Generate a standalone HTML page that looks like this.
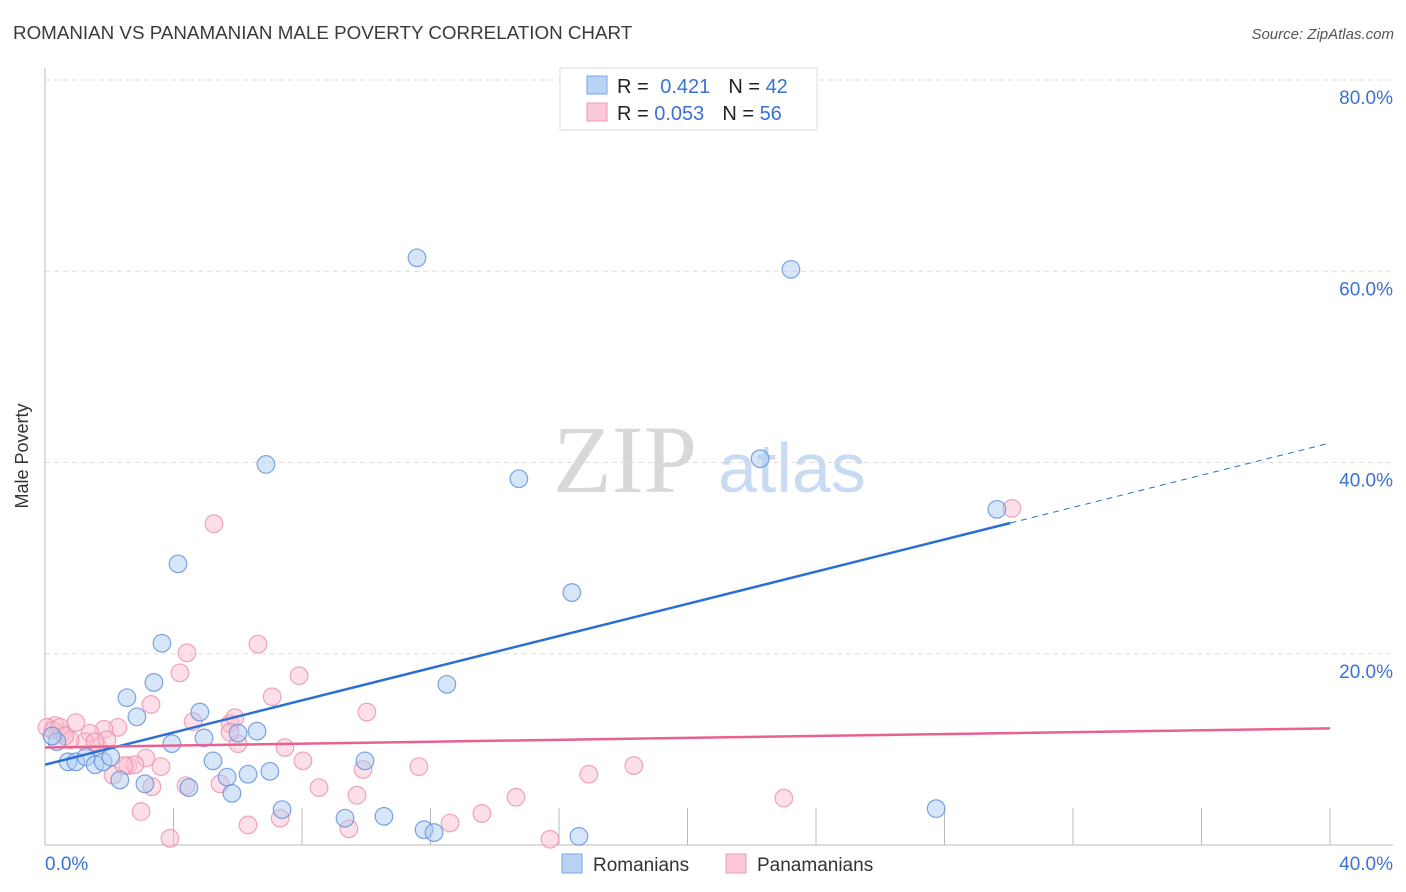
<!DOCTYPE html>
<html><head><meta charset="utf-8"><style>
body{margin:0;background:#fff;font-family:"Liberation Sans",sans-serif;}
svg{display:block}
</style></head><body>
<svg id="chart" width="1406" height="892" xmlns="http://www.w3.org/2000/svg">
<text x="13" y="39" font-size="18.8" fill="#3a3a3a">ROMANIAN VS PANAMANIAN MALE POVERTY CORRELATION CHART</text>
<text x="1394" y="39" font-size="15" fill="#555" font-style="italic" text-anchor="end">Source: ZipAtlas.com</text>
<g>
<text x="553" y="492" font-size="96" font-family="Liberation Serif,serif" fill="#d8d8d8">ZIP</text>
<text x="718" y="492" font-size="70" fill="#c9dbf3">atlas</text>
</g>
<g id="grid"></g>
<g id="axes"></g>
<g id="marks"></g>
<text x="28" y="456" font-size="18" fill="#333" text-anchor="middle" transform="rotate(-90 28 456)">Male Poverty</text>
<g>
<rect x="560" y="68" width="257" height="62" fill="#fff" stroke="#ddd"/>
<rect x="587" y="76" width="20" height="18" fill="#b9d3f5" stroke="#7aa6e6"/>
<rect x="587" y="103" width="20" height="18" fill="#fbcad8" stroke="#f09ab3"/>
<text x="617" y="93" font-size="20" fill="#222">R = <tspan fill="#3a72d4" dx="6">0.421</tspan><tspan dx="18">N = </tspan><tspan fill="#3a72d4">42</tspan></text>
<text x="617" y="120" font-size="20" fill="#222">R = <tspan fill="#3a72d4">0.053</tspan><tspan dx="18">N = </tspan><tspan fill="#3a72d4">56</tspan></text>
</g>
<g>
<rect x="562" y="854" width="20" height="19" fill="#b9d3f5" stroke="#7aa6e6"/>
<text x="593" y="871" font-size="19" fill="#333">Romanians</text>
<rect x="726" y="854" width="20" height="19" fill="#fbcad8" stroke="#f09ab3"/>
<text x="757" y="871" font-size="19" fill="#333">Panamanians</text>
</g>
</svg>
<script>
const yTicks=[20,40,60,80];
const yTickLabels=["20.0%","40.0%","60.0%","80.0%"];
const xTickLabels=["0.0%","40.0%"];
const blueX=[11.58,23.22,6.88,14.75,22.26,29.63,4.14,16.4,3.64,12.51,3.39,2.55,2.86,4.82,3.95,4.95,6.01,6.6,5.23,9.96,7.0,6.32,5.67,5.82,4.48,3.11,2.33,0.72,0.96,1.28,1.56,1.81,2.05,0.37,0.22,7.38,9.34,10.55,11.8,12.11,16.62,27.74];
const blueY=[61.4,60.2,39.8,38.3,40.4,35.1,29.4,26.4,21.1,16.8,17.0,15.4,13.4,13.9,10.6,11.2,11.7,11.9,8.8,8.8,7.7,7.4,7.1,5.4,6.0,6.4,6.8,8.7,8.7,9.2,8.4,8.7,9.2,10.8,11.4,3.7,2.8,3.0,1.6,1.3,0.9,3.8];
const pinkX=[5.26,30.1,6.63,4.42,4.2,7.91,7.07,3.3,10.02,4.61,5.76,2.27,0.96,1.84,1.4,0.53,0.31,0.06,1.25,1.65,1.93,6.01,7.47,3.14,2.58,2.8,3.61,3.33,4.39,5.45,8.03,9.9,11.64,16.93,18.33,8.53,9.71,14.66,23.0,2.12,2.99,3.89,6.32,7.32,9.46,12.61,13.6,15.72,2.46,0.25,0.47,1.56,0.78,0.62,5.91,5.76];
const pinkY=[33.6,35.2,21.0,20.1,18.0,17.7,15.5,14.7,13.9,12.9,12.7,12.3,12.8,12.1,11.7,11.7,12.5,12.3,10.8,10.2,11.0,10.6,10.2,9.1,8.3,8.4,8.2,6.1,6.2,6.4,8.8,7.9,8.2,7.4,8.3,6.0,5.2,5.0,4.9,7.3,3.5,0.7,2.1,2.8,1.7,2.3,3.3,0.6,8.3,12.0,12.3,10.8,11.0,11.4,13.3,11.8];
const blueTrend=[8.4,0.841];
const pinkTrend=[10.2,0.05];
const X0=45,X1=1330,Y0=845,Y80=80;
const sx=v=>X0+(v/40)*(X1-X0);
const sy=v=>Y0-(v/80)*(Y0-Y80);
const NS="http://www.w3.org/2000/svg";
function mk(tag,attrs,parent){const e=document.createElementNS(NS,tag);for(const k in attrs)e.setAttribute(k,attrs[k]);parent.appendChild(e);return e;}
const grid=document.getElementById('grid'),axes=document.getElementById('axes'),marks=document.getElementById('marks');
mk('line',{x1:45,y1:80,x2:1393,y2:80,stroke:'#ddd','stroke-dasharray':'5 4'},grid);
yTicks.forEach((t,i)=>{
 const l=mk('line',{x1:45,y1:sy(t),x2:1393,y2:sy(t),stroke:'#ddd','stroke-dasharray':'5 4'},grid);
 
 
 const tx=mk('text',{x:1393,y:sy(t)+24,'font-size':19,fill:'#3a72d4','text-anchor':'end'},axes);
 tx.textContent=yTickLabels[i];
 
 
});
const ya=mk('line',{x1:45,y1:68,x2:45,y2:845,stroke:'#bbb'},axes);


const xa=mk('line',{x1:45,y1:845,x2:1393,y2:845,stroke:'#bbb'},axes);


for(let v=4;v<=40;v+=4){
 const tk=mk('line',{x1:sx(v),y1:808,x2:sx(v),y2:845,stroke:'#bbb'},axes);
 
 
}
const xl0=mk('text',{x:45,y:870,'font-size':19,fill:'#3a72d4'},axes);
xl0.textContent=xTickLabels[0];


const xl1=mk('text',{x:1393,y:870,'font-size':19,fill:'#3a72d4','text-anchor':'end'},axes);
xl1.textContent=xTickLabels[1];


function pts(xs,ys,fill,stroke,name){
 xs.forEach((x,i)=>{
  const c=mk('circle',{cx:sx(x),cy:sy(ys[i]),r:8.8,fill:fill,'fill-opacity':0.5,stroke:stroke,'stroke-opacity':0.8,'stroke-width':1.2},marks);
  
  
 });
}
pts(pinkX,pinkY,'#f9bfd0','#ee8fae','panamanian-point');
pts(blueX,blueY,'#aecbf2','#5c8fdc','romanian-point');
const bEnd=30.05;
const bl=mk('line',{x1:sx(0),y1:sy(blueTrend[0]),x2:sx(bEnd),y2:sy(blueTrend[0]+blueTrend[1]*bEnd),stroke:'#2a6fd6','stroke-width':2.5},marks);


const bd=mk('line',{x1:sx(bEnd),y1:sy(blueTrend[0]+blueTrend[1]*bEnd),x2:sx(40),y2:sy(blueTrend[0]+blueTrend[1]*40),stroke:'#2a6fd6','stroke-width':1,'stroke-dasharray':'6 5'},marks);


const pl=mk('line',{x1:sx(0),y1:sy(pinkTrend[0]),x2:sx(40),y2:sy(pinkTrend[0]+pinkTrend[1]*40),stroke:'#e8628f','stroke-width':2.5},marks);


</script>
</body></html>
